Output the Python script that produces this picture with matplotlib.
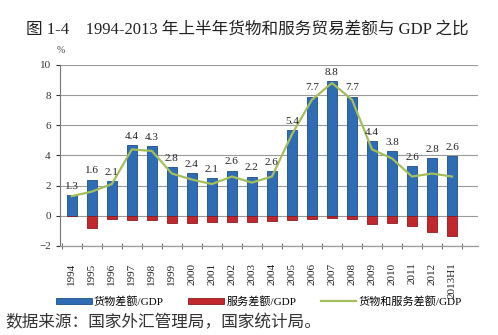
import numpy as np
import matplotlib.pyplot as plt

plt.rcParams['font.family'] = ['Liberation Serif', 'Noto Sans CJK SC', 'DejaVu Sans']

# === data ===
years = ['1994', '1995', '1996', '1997', '1998', '1999', '2000', '2001', '2002', '2003',
         '2004', '2005', '2006', '2007', '2008', '2009', '2010', '2011', '2012', '2013H1']
goods = [1.35, 2.4, 2.3, 4.7, 4.6, 3.25, 2.85, 2.5, 3.0, 2.6,
         2.95, 5.7, 7.9, 8.95, 7.9, 4.95, 4.3, 3.3, 3.85, 3.95]
services = [-0.05, -0.8, -0.2, -0.3, -0.3, -0.45, -0.45, -0.4, -0.4, -0.4,
            -0.35, -0.3, -0.2, -0.15, -0.2, -0.55, -0.5, -0.7, -1.05, -1.35]
total = [1.3, 1.6, 2.1, 4.4, 4.3, 2.8, 2.4, 2.1, 2.6, 2.2,
         2.6, 5.4, 7.7, 8.8, 7.7, 4.4, 3.8, 2.6, 2.8, 2.6]

blue = '#2E6DB4'
red = '#C0282D'
green = '#A5BE5C'

fig = plt.figure(figsize=(4.98, 3.35), dpi=100)
ax = fig.add_axes([0.12, 0.266, 0.84, 0.54])

x = np.arange(len(years))
b1 = ax.bar(x, goods, width=0.5, color=blue, edgecolor='#1F4E8C', linewidth=0.6,
            label='货物差额/GDP', zorder=3)
b2 = ax.bar(x, services, width=0.5, color=red, edgecolor='#8E1B1F', linewidth=0.6,
            label='服务差额/GDP', zorder=3)
ln, = ax.plot(x, total, color=green, linewidth=1.6, label='货物和服务差额/GDP', zorder=4)

# value labels for the total, above the goods bar
for xi, g, t in zip(x, goods, total):
    ax.annotate(f'{t:.1f}', (xi, g), xytext=(0, 3), textcoords='offset points',
                ha='center', va='bottom', fontsize=8, color='#222222', zorder=5)

ax.set_xlim(-0.6, 20.3)
ax.set_ylim(-2, 10)
ax.set_yticks(range(-2, 11, 2))
ax.yaxis.grid(True, color='#9a9a9a', linewidth=0.8, zorder=0)
ax.tick_params(axis='y', length=3, labelsize=8, colors='#333333')

ax.set_xticks(x)
ax.set_xticklabels(years, rotation=90, fontsize=8, color='#222222')
ax.tick_params(axis='x', length=0, pad=12)

for side in ['top', 'right']:
    ax.spines[side].set_visible(False)
ax.spines['left'].set_color('#777777')
ax.spines['bottom'].set_color('#9a9a9a')

# zero line with small category ticks
zero = ax.secondary_xaxis(0)
zero.set_xticks(np.arange(len(years) + 1) - 0.5)
zero.tick_params(direction='inout', length=4, labelbottom=False, color='#777777')
zero.spines['bottom'].set_color('#777777')

fig.text(0.052, 0.91, '图 1-4    1994-2013 年上半年货物和服务贸易差额与 GDP 之比',
         fontsize=12, color='#222222', va='center')
fig.text(0.113, 0.848, '%', fontsize=7, color='#444444', va='center')

fig.legend([b1, b2, ln], ['货物差额/GDP', '服务差额/GDP', '货物和服务差额/GDP'],
           loc='center', bbox_to_anchor=(0.52, 0.1), ncol=3, frameon=False,
           fontsize=8, handlelength=3.2, handleheight=0.45, columnspacing=2.2,
           handletextpad=0.2)

fig.text(0.01, 0.036, '数据来源：国家外汇管理局，国家统计局。', fontsize=12,
         color='#333333', va='center')

fig.savefig('out.png', dpi=100)
